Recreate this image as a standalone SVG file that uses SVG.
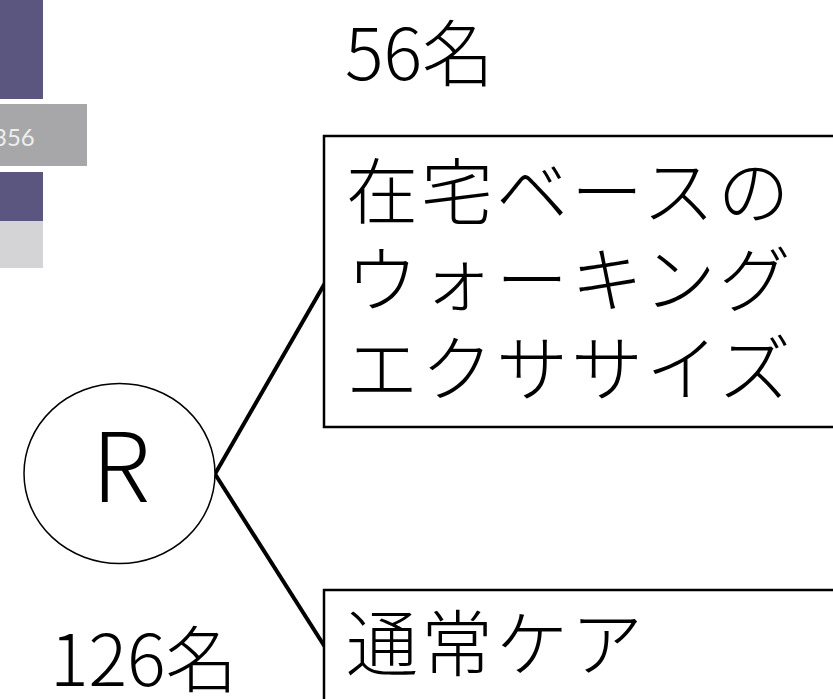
<svg xmlns="http://www.w3.org/2000/svg" width="833" height="699" viewBox="0 0 833 699">
<style>
.jp{font-family:"Noto Sans CJK JP","Noto Sans",sans-serif;font-weight:300;fill:#000;}
.box{fill:#fff;stroke:#000;stroke-width:2.5;}
.conn{stroke:#000;stroke-width:4;fill:none;}
</style>
<rect width="833" height="699" fill="#fff"/>
<g id="legend-fragment">
<rect x="0" y="0" width="43" height="99" fill="#5b5680"/>
<rect x="0" y="104" width="87" height="62" fill="#a7a7a9"/>
<text x="-7" y="146" font-family="Lato, sans-serif" font-size="24" fill="#eeeeee">356</text>
<rect x="0" y="172" width="43" height="49" fill="#5b5680"/>
<rect x="0" y="221" width="43" height="47" fill="#d4d4d6"/>
</g>
<g id="connectors">
<line class="conn" x1="215" y1="474" x2="325" y2="283"/>
<line class="conn" x1="215" y1="474" x2="325" y2="647"/>
</g>
<g id="node-R">
<ellipse cx="119.5" cy="473.5" rx="95.5" ry="90" fill="#fff" stroke="#000" stroke-width="1.5"/>
<text class="jp" x="121" y="502" font-size="96" text-anchor="middle">R</text>
</g>
<g id="node-intervention">
<rect class="box" x="324" y="136" width="520" height="291"/>
<text class="jp" x="346" y="218" font-size="72" letter-spacing="3">在宅ベースの</text>
<text class="jp" x="346" y="306" font-size="72" letter-spacing="3">ウォーキング</text>
<text class="jp" x="346" y="395" font-size="72" letter-spacing="3">エクササイズ</text>
</g>
<g id="node-control">
<rect class="box" x="324" y="590" width="520" height="120"/>
<text class="jp" x="346" y="670" font-size="72" letter-spacing="3">通常ケア</text>
</g>
<g id="label-56">
<text class="jp" x="345" y="80" font-size="72">56名</text>
</g>
<g id="label-126">
<text class="jp" x="50" y="686" font-size="72">126名</text>
</g>
</svg>
